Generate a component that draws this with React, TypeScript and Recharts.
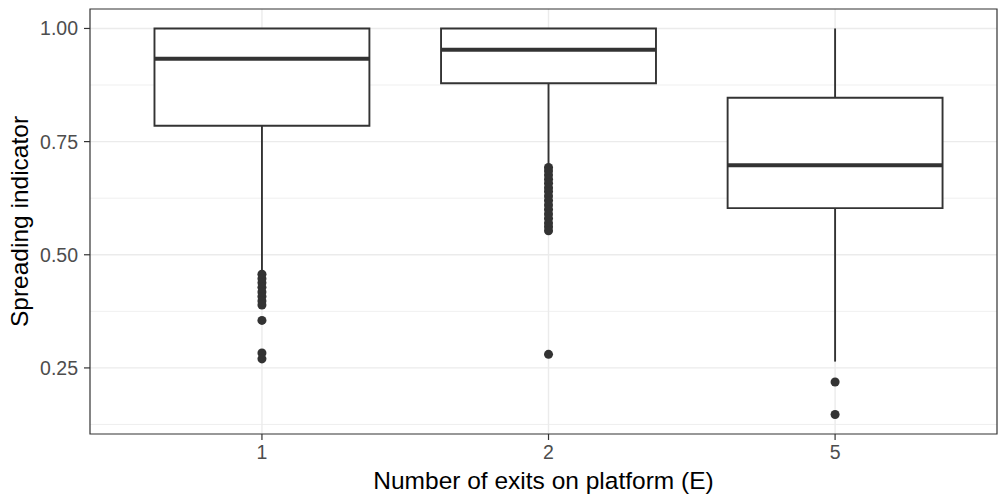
import {
  ScatterChart,
  Scatter,
  XAxis,
  YAxis,
  ZAxis,
  CartesianGrid,
  ReferenceArea,
  ReferenceLine,
  Label,
} from "recharts";

// Groups on the x axis (number of exits)
const GROUPS = ["1", "2", "5"];

// Box statistics per group
const Q1 = [0.785, 0.879, 0.603];
const MEDIAN = [0.933, 0.953, 0.698];
const Q3 = [1.0, 1.0, 0.847];
const WHISKER_LOW = [0.462, 0.7, 0.264];
const WHISKER_HIGH = [1.0, 1.0, 1.0];

const OUTLIERS_1 = [0.457, 0.447, 0.438, 0.428, 0.418, 0.408, 0.398, 0.389, 0.355, 0.283, 0.27];
const OUTLIERS_2 = [
  0.693, 0.685, 0.676, 0.667, 0.658, 0.648, 0.64, 0.63, 0.62, 0.61, 0.6, 0.59, 0.58,
  0.57, 0.562, 0.553, 0.28,
];
const OUTLIERS_5 = [0.219, 0.147];

const Y_TICKS = [0.25, 0.5, 0.75, 1.0];
const Y_MINOR = [0.125, 0.375, 0.625, 0.875];
const X_TICKS = [1, 2, 3];

const X_DOMAIN: [number, number] = [0.4, 3.565];
const Y_DOMAIN: [number, number] = [0.104, 1.043];
const HALF_WIDTH = 0.375;

const INK = "#333333";
const GRID = "#EBEBEB";
const FONT = "'Liberation Sans', Arial, sans-serif";

const outlierPoints = [OUTLIERS_1, OUTLIERS_2, OUTLIERS_5].flatMap((vals, i) =>
  vals.map((v) => ({ x: i + 1, y: v }))
);

export default function App() {
  return (
    <div style={{ position: "absolute", left: 0, top: 0, background: "#fff" }}>
      <ScatterChart
        width={998}
        height={495}
        margin={{ top: 9, right: 1, bottom: 0, left: 0 }}
        style={{ fontFamily: FONT }}
      >
        <CartesianGrid
          horizontalValues={Y_MINOR}
          vertical={false}
          stroke={GRID}
          strokeWidth={0.8}
        />
        <CartesianGrid
          horizontalValues={Y_TICKS}
          verticalValues={X_TICKS}
          stroke={GRID}
          strokeWidth={1.4}
        />
        <XAxis
          type="number"
          dataKey="x"
          domain={X_DOMAIN}
          ticks={X_TICKS}
          allowDataOverflow
          tickFormatter={(v: number) => GROUPS[v - 1]}
          axisLine={false}
          tickLine={{ stroke: INK, strokeWidth: 1.2 }}
          tickSize={6}
          tickMargin={5}
          height={61}
          tick={{ fill: "#4D4D4D", fontSize: 19.5 }}
        >
          <Label
            value="Number of exits on platform (E)"
            position="insideBottom"
            offset={6}
            fill="#000"
            fontSize={24.5}
          />
        </XAxis>
        <YAxis
          type="number"
          dataKey="y"
          domain={Y_DOMAIN}
          ticks={Y_TICKS}
          allowDataOverflow
          tickFormatter={(v: number) => v.toFixed(2)}
          axisLine={false}
          tickLine={{ stroke: INK, strokeWidth: 1.2 }}
          tickSize={6}
          tickMargin={6}
          width={90}
          tick={{ fill: "#4D4D4D", fontSize: 19.5 }}
        >
          <Label
            value="Spreading indicator"
            angle={-90}
            position="insideLeft"
            offset={19}
            textAnchor="middle"
            fill="#000"
            fontSize={24.5}
          />
        </YAxis>
        <ZAxis range={[90, 90]} />

        {GROUPS.map((g, i) => (
          <ReferenceLine
            key={`wh-${g}`}
            segment={[
              { x: i + 1, y: Q3[i] },
              { x: i + 1, y: WHISKER_HIGH[i] },
            ]}
            stroke={INK}
            strokeWidth={1.9}
          />
        ))}
        {GROUPS.map((g, i) => (
          <ReferenceLine
            key={`wl-${g}`}
            segment={[
              { x: i + 1, y: Q1[i] },
              { x: i + 1, y: WHISKER_LOW[i] },
            ]}
            stroke={INK}
            strokeWidth={1.9}
          />
        ))}
        {GROUPS.map((g, i) => (
          <ReferenceArea
            key={`box-${g}`}
            x1={i + 1 - HALF_WIDTH}
            x2={i + 1 + HALF_WIDTH}
            y1={Q1[i]}
            y2={Q3[i]}
            fill="#fff"
            fillOpacity={1}
            stroke={INK}
            strokeWidth={1.9}
          />
        ))}
        {GROUPS.map((g, i) => (
          <ReferenceLine
            key={`med-${g}`}
            segment={[
              { x: i + 1 - HALF_WIDTH, y: MEDIAN[i] },
              { x: i + 1 + HALF_WIDTH, y: MEDIAN[i] },
            ]}
            stroke={INK}
            strokeWidth={4}
          />
        ))}

        <Scatter data={outlierPoints} fill={INK} isAnimationActive={false} />

        <ReferenceArea
          x1={X_DOMAIN[0]}
          x2={X_DOMAIN[1]}
          y1={Y_DOMAIN[0]}
          y2={Y_DOMAIN[1]}
          fill="none"
          stroke={INK}
          strokeWidth={1.2}
          ifOverflow="visible"
        />
      </ScatterChart>
    </div>
  );
}
